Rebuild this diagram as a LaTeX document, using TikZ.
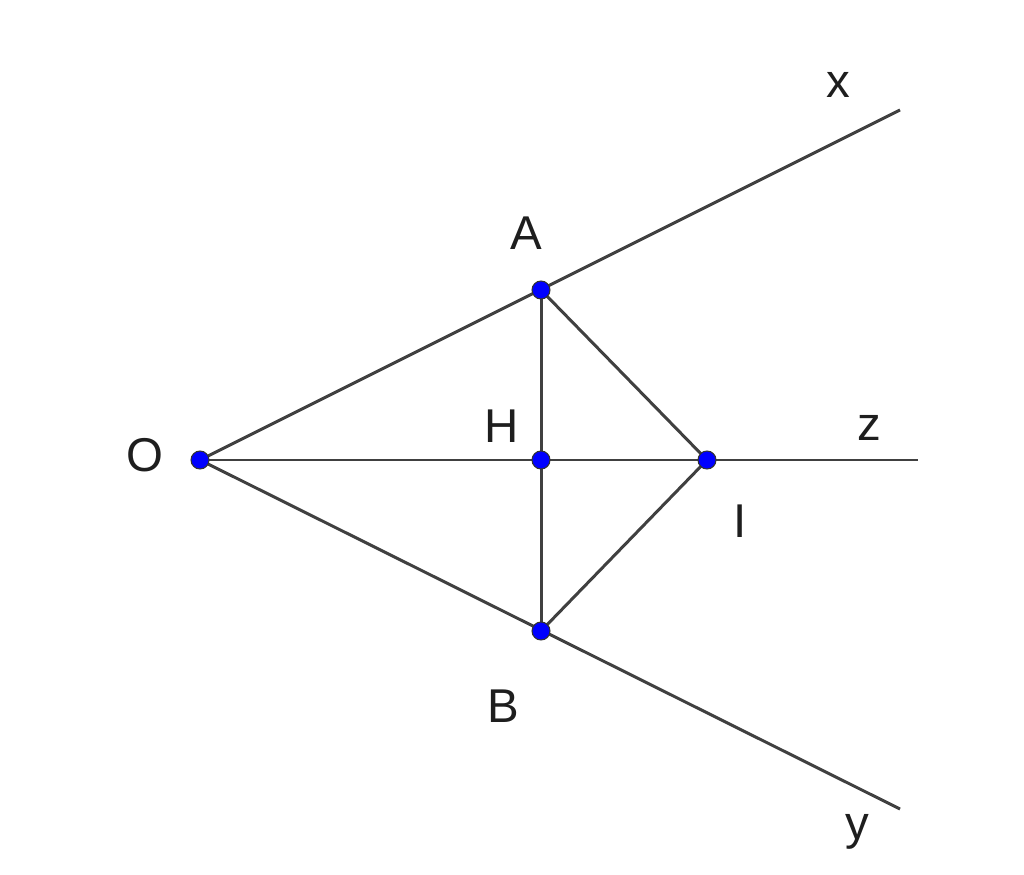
\documentclass[tikz,border=0pt]{standalone}
\usepackage{fontspec}
\setmainfont{Liberation Sans}
\begin{document}
\begin{tikzpicture}[x=0.02cm,y=-0.02cm,
  seg/.style={line width=1.7pt,draw={rgb,255:red,64;green,64;blue,64}},
  pt/.style={circle,fill=blue,draw=black!80,line width=0.6pt,inner sep=0pt,minimum size=0.36cm},
  lbl/.style={font=\fontsize{27}{30}\selectfont,text={rgb,255:red,30;green,30;blue,30}}]
\useasboundingbox (0,0) rectangle (1024,875);
\coordinate (X) at (900,110);
\coordinate (Z) at (918,460);
\coordinate (Y) at (900,809);
\coordinate (o) at (200,460);
\coordinate (a) at (541,290);
\coordinate (h) at (541,460);
\coordinate (b) at (541,631);
\coordinate (i) at (707,460);
\draw[seg] (o) -- (X);
\draw[seg] (o) -- (Y);
\draw[seg] (o) -- (Z);
\draw[seg] (a) -- (b);
\draw[seg] (a) -- (i) -- (b);
\foreach \p in {o,a,h,b,i} \node[pt] at (\p) {};
\node[lbl] at (838,85) {x};
\node[lbl] at (526,233) {A};
\node[lbl] at (502,426) {H};
\node[lbl] at (869,428) {z};
\node[lbl] at (145,455) {O};
\node[lbl] at (740,521) {I};
\node[lbl] at (503,706) {B};
\node[lbl] at (857,832) {y};
\end{tikzpicture}
\end{document}
